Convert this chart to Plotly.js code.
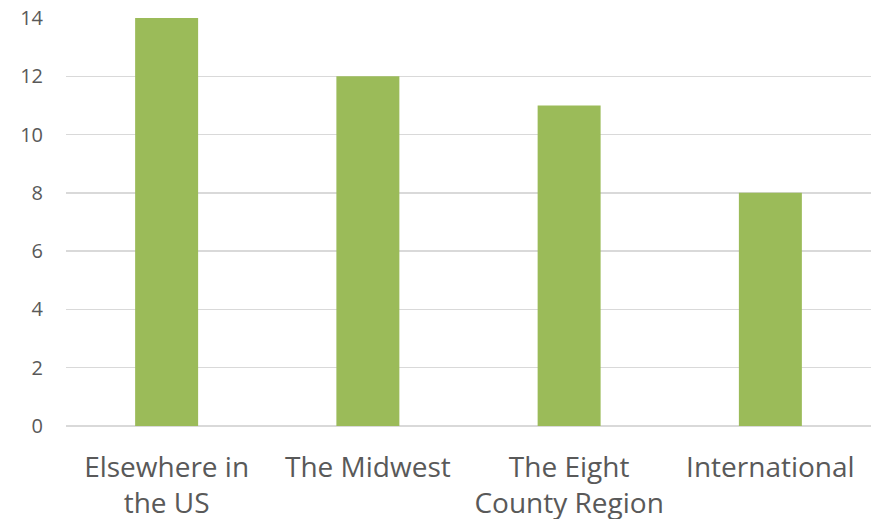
<!DOCTYPE html>
<html>
<head>
<meta charset="utf-8">
<script src="https://cdn.plot.ly/plotly-3.0.1.min.js"></script>
<style>
  html, body { margin: 0; padding: 0; background: #fff; }
  #chart { width: 877px; height: 519px; }
</style>
</head>
<body>
<div id="chart"></div>
<script>
var categories = ["Elsewhere in<br>the US", "The Midwest", "The Eight<br>County Region", "International"];
var counts = [14, 12, 11, 8];
var yTicks = [0, 2, 4, 6, 8, 10, 12, 14];

var bars = {
    x: categories,
    y: counts,
    type: "bar",
    marker: { color: "#9bbb59" },
    hoverinfo: "x+y"
};

var layout = {
    width: 877,
    height: 519,
    margin: { l: 66, r: 6, t: 18, b: 93 },
    paper_bgcolor: "#ffffff",
    plot_bgcolor: "#ffffff",
    bargap: 0.687,
    showlegend: false,
    font: { family: "Open Sans, sans-serif", color: "#595959" },
    xaxis: {
        type: "category",
        tickfont: { size: 28, color: "#595959" },
        ticks: "outside",
        ticklen: 16,
        tickcolor: "rgba(0,0,0,0)",
        showgrid: false,
        showline: false,
        zeroline: false
    },
    yaxis: {
        range: [0, 14],
        tickvals: yTicks,
        tickfont: { size: 20, color: "#595959" },
        ticks: "outside",
        ticklen: 18,
        tickcolor: "rgba(0,0,0,0)",
        showgrid: true,
        gridcolor: "#d9d9d9",
        gridwidth: 1.5,
        zeroline: true,
        zerolinecolor: "#d9d9d9",
        zerolinewidth: 1.5,
        showline: false
    }
};

Plotly.newPlot("chart", [bars], layout, { displayModeBar: false, staticPlot: true });
</script>
</body>
</html>
